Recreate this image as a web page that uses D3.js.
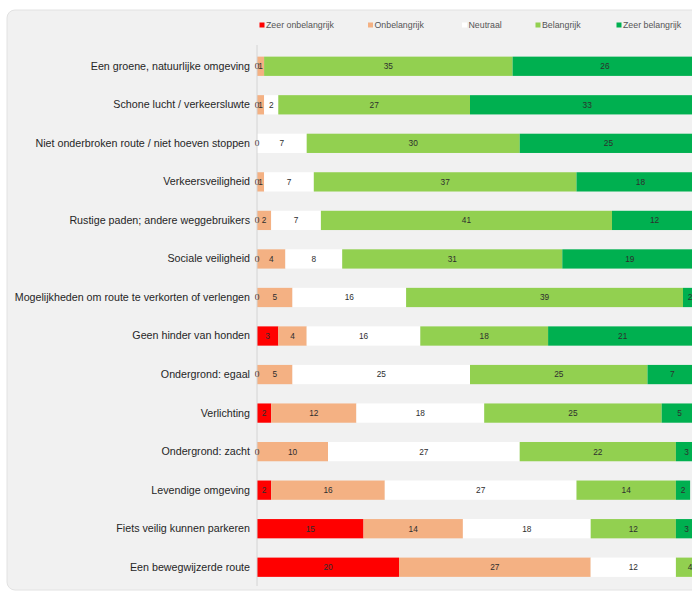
<!DOCTYPE html>
<html>
<head>
<meta charset="utf-8">
<script src="https://cdn.jsdelivr.net/npm/d3@7/dist/d3.min.js"></script>
<style>
  html, body { margin: 0; padding: 0; background: #ffffff; }
  svg { display: block; }
</style>
</head>
<body>
<svg id="chart" width="692" height="592"></svg>
<script>
// Waardering van routekenmerken (aantallen respondenten)
const categories = [
  "Een groene, natuurlijke omgeving",
  "Schone lucht / verkeersluwte",
  "Niet onderbroken route / niet hoeven stoppen",
  "Verkeersveiligheid",
  "Rustige paden; andere weggebruikers",
  "Sociale veiligheid",
  "Mogelijkheden om route te verkorten of verlengen",
  "Geen hinder van honden",
  "Ondergrond: egaal",
  "Verlichting",
  "Ondergrond: zacht",
  "Levendige omgeving",
  "Fiets veilig kunnen parkeren",
  "Een bewegwijzerde route"
];

const seriesNames = ["Zeer onbelangrijk", "Onbelangrijk", "Neutraal", "Belangrijk", "Zeer belangrijk"];
const seriesColors = ["#ff0000", "#f4b183", "#ffffff", "#92d050", "#00b050"];

const zeerOnbelangrijk = [0, 0, 0, 0, 0, 0, 0, 3, 0, 2, 0, 2, 15, 20];
const onbelangrijk     = [1, 1, 0, 1, 2, 4, 5, 4, 5, 12, 10, 16, 14, 27];
const neutraal         = [0, 2, 7, 7, 7, 8, 16, 16, 25, 18, 27, 27, 18, 12];
const belangrijk       = [35, 27, 30, 37, 41, 31, 39, 18, 25, 25, 22, 14, 12, 4];
const zeerBelangrijk   = [26, 33, 25, 18, 12, 19, 2, 21, 7, 5, 3, 2, 3, 0];

const seriesValues = [zeerOnbelangrijk, onbelangrijk, neutraal, belangrijk, zeerBelangrijk];

const svg = d3.select("#chart");
const W = 692, H = 592;
const FONT = "Liberation Sans, Arial, sans-serif";

// Chart panel
svg.append("rect")
  .attr("x", 7).attr("y", 10)
  .attr("width", W + 20).attr("height", 580)
  .attr("rx", 8).attr("ry", 8)
  .attr("fill", "#f1f1f1")
  .attr("stroke", "#e2e2e2").attr("stroke-width", 1);

const x = d3.scaleLinear().domain([0, 62]).range([257, 257 + 62 * 7.1]);
const y = d3.scaleBand().domain(categories).range([47, 586.5])
  .paddingInner(0.5).paddingOuter(0.25);

// Stack the series per category
const rows = categories.map((c, i) => {
  const r = { cat: c };
  seriesNames.forEach((s, k) => { r[s] = seriesValues[k][i]; });
  return r;
});
const stacked = d3.stack().keys(seriesNames)(rows);

const layers = svg.append("g").selectAll("g")
  .data(stacked).join("g")
  .attr("fill", (d, k) => seriesColors[k]);

layers.selectAll("rect")
  .data(d => d)
  .join("rect")
  .attr("x", d => x(d[0]))
  .attr("y", d => y(d.data.cat))
  .attr("width", d => Math.max(0, x(d[1]) - x(d[0])))
  .attr("height", y.bandwidth());

// Value labels
const labelG = svg.append("g")
  .attr("font-family", FONT)
  .attr("font-size", 8.3)
  .attr("fill", "#2e2e2e")
  .attr("text-anchor", "middle");

stacked.forEach((layer, k) => {
  layer.forEach(d => {
    const v = d[1] - d[0];
    if (v === 0 && k !== 0) return;
    labelG.append("text")
      .attr("x", (x(d[0]) + x(d[1])) / 2)
      .attr("y", y(d.data.cat) + y.bandwidth() / 2)
      .attr("dy", "0.35em")
      .text(v);
  });
});

// Category axis
const yAxis = svg.append("g")
  .attr("transform", `translate(${x(0)},0)`)
  .call(d3.axisLeft(y).tickSize(0).tickPadding(7));
yAxis.select(".domain")
  .attr("stroke", "#d4d4d4")
  .attr("d", `M0,45V586`);
yAxis.selectAll("text")
  .attr("font-family", FONT)
  .attr("font-size", 10.7)
  .attr("fill", "#262626");

// Legend
const legendX = [259.5, 368, 462, 535.5, 616.5];
const legend = svg.append("g")
  .attr("font-family", FONT)
  .attr("font-size", 8.8)
  .attr("fill", "#555555");
seriesNames.forEach((s, k) => {
  const g = legend.append("g").attr("transform", `translate(${legendX[k]},25)`);
  g.append("rect").attr("x", 0).attr("y", -2.5).attr("width", 5).attr("height", 5)
    .attr("fill", seriesColors[k]);
  g.append("text").attr("x", 6.5).attr("dy", "0.35em").text(s);
});
</script>
</body>
</html>
